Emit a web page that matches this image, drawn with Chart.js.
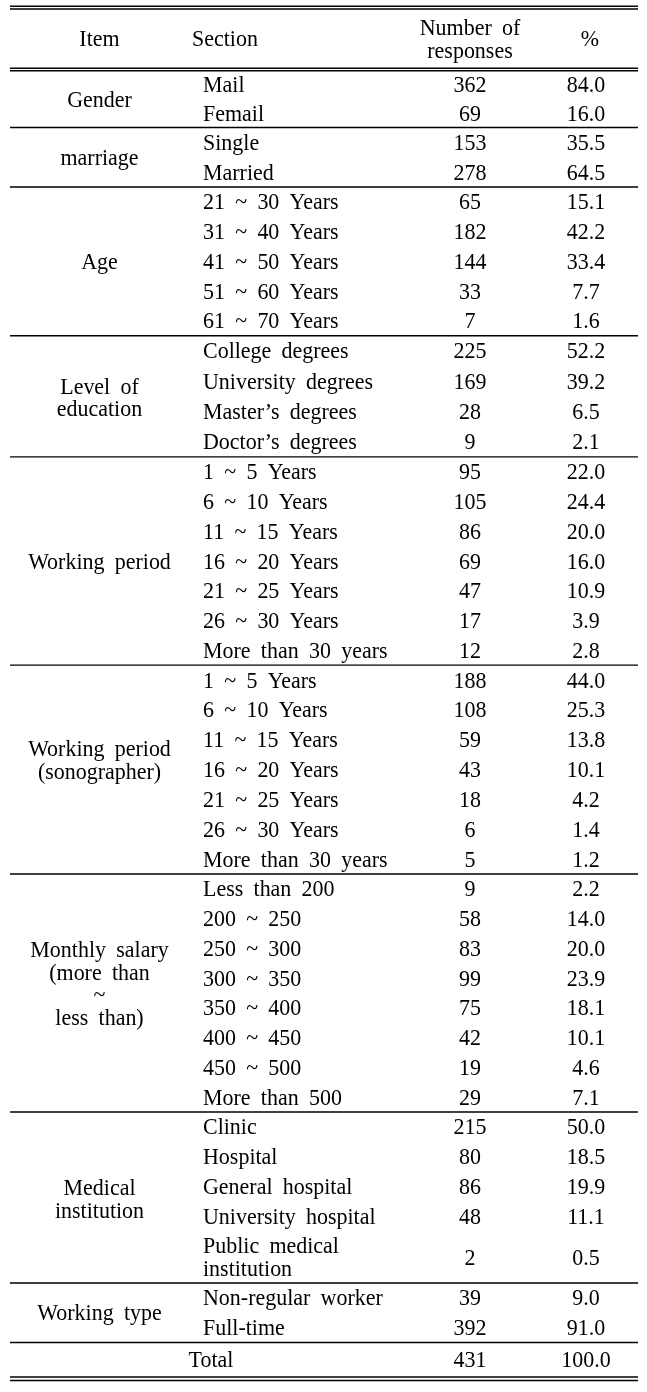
<!DOCTYPE html>
<html>
<head>
<meta charset="utf-8">
<script src="https://cdn.jsdelivr.net/npm/chart.js@4.4.1/dist/chart.umd.min.js"></script>
<style>
html, body { margin: 0; padding: 0; background: #fff; }
canvas { display: block; }
</style>
</head>
<body>
<canvas id="tbl" width="647" height="1392" style="width:647px;height:1392px"></canvas>
<script>
// 표 데이터
const headers = ['Item', 'Section', 'Number of|responses', '%'];
const items = ['Gender', 'marriage', 'Age', 'Level of|education', 'Working period',
    'Working period|(sonographer)', 'Monthly salary|(more than|~|less than)',
    'Medical|institution', 'Working type'];
const sections = [
    ['Mail', 'Femail'],
    ['Single', 'Married'],
    ['21 ~ 30 Years', '31 ~ 40 Years', '41 ~ 50 Years', '51 ~ 60 Years', '61 ~ 70 Years'],
    ['College degrees', 'University degrees', 'Master’s degrees', 'Doctor’s degrees'],
    ['1 ~ 5 Years', '6 ~ 10 Years', '11 ~ 15 Years', '16 ~ 20 Years', '21 ~ 25 Years', '26 ~ 30 Years', 'More than 30 years'],
    ['1 ~ 5 Years', '6 ~ 10 Years', '11 ~ 15 Years', '16 ~ 20 Years', '21 ~ 25 Years', '26 ~ 30 Years', 'More than 30 years'],
    ['Less than 200', '200 ~ 250', '250 ~ 300', '300 ~ 350', '350 ~ 400', '400 ~ 450', '450 ~ 500', 'More than 500'],
    ['Clinic', 'Hospital', 'General hospital', 'University hospital', 'Public medical|institution'],
    ['Non-regular worker', 'Full-time']
];
const counts = [
    [362, 69],
    [153, 278],
    [65, 182, 144, 33, 7],
    [225, 169, 28, 9],
    [95, 105, 86, 69, 47, 17, 12],
    [188, 108, 59, 43, 18, 6, 5],
    [9, 58, 83, 99, 75, 42, 19, 29],
    [215, 80, 86, 48, 2],
    [39, 392]
];
const percents = [
    [84.0, 16.0],
    [35.5, 64.5],
    [15.1, 42.2, 33.4, 7.7, 1.6],
    [52.2, 39.2, 6.5, 2.1],
    [22.0, 24.4, 20.0, 16.0, 10.9, 3.9, 2.8],
    [44.0, 25.3, 13.8, 10.1, 4.2, 1.4, 1.2],
    [2.2, 14.0, 20.0, 23.9, 18.1, 10.1, 4.6, 7.1],
    [50.0, 18.5, 19.9, 11.1, 0.5],
    [9.0, 91.0]
];
const totalLabel = 'Total';
const totalCount = 431;
const totalPercent = 100.0;

// 배치 (세로 1칸 = 29.75px)
const UNIT = 29.75;
const groupSpan = [1.91, 2, 5, 4.07, 7, 7.02, 8, 5.75, 2];
const rowWeight = (g, i) => (g == 7 && i == 4) ? 1.74 : 1;
const labelShift = [0, 0, 0, 0.04, 0, -0.32, -0.32, 0.04, 0];
const colX = { item: 99.5, section: 203, count: 470, pct: 586, pctHead: 590, total: 211 };
const rules = { top: [0.212, 0.303], head: [2.296, 2.376], totalH: 1.16, bottom: 0.115 };
const headY = 1.3;
const lineGap = 22.5;
const squeeze = 0.955;

// 셀 위치 계산
const itemPts = [], sectionPts = [], countPts = [], pctPts = [], headPts = [], groupRules = [];
let y = rules.head[1];
sections.forEach((rows, g) => {
    const W = rows.reduce((s, r, i) => s + rowWeight(g, i), 0);
    itemPts.push({ x: colX.item, y: y + groupSpan[g] / 2 + labelShift[g], text: items[g], align: 'center' });
    let ry = y;
    rows.forEach((name, i) => {
        const h = groupSpan[g] * rowWeight(g, i) / W;
        const cy = ry + h / 2;
        sectionPts.push({ x: colX.section, y: cy, text: name, align: 'left' });
        countPts.push({ x: colX.count, y: cy, text: String(counts[g][i]), align: 'center' });
        pctPts.push({ x: colX.pct, y: cy, text: percents[g][i].toFixed(1), align: 'center' });
        ry += h;
    });
    y += groupSpan[g];
    groupRules.push(y);
});
const totalY = y + rules.totalH / 2;
itemPts.push({ x: colX.total, y: totalY, text: totalLabel, align: 'center' });
countPts.push({ x: colX.count, y: totalY, text: String(totalCount), align: 'center' });
pctPts.push({ x: colX.pct, y: totalY, text: totalPercent.toFixed(1), align: 'center' });
const endY = y + rules.totalH;

headPts.push({ x: colX.item, y: headY, text: headers[0], align: 'center' });
headPts.push({ x: colX.section + 22, y: headY, text: headers[1], align: 'center' });
headPts.push({ x: colX.count, y: headY, text: headers[2], align: 'center' });
headPts.push({ x: colX.pctHead, y: headY, text: headers[3], align: 'center' });

// 선과 글자를 그린다
const tablePlugin = {
    id: 'tablePlugin',
    afterDatasetsDraw(chart) {
        const ctx = chart.ctx;
        const xs = chart.scales.x, ys = chart.scales.y;
        const x0 = xs.getPixelForValue(10), x1 = xs.getPixelForValue(638);
        ctx.save();
        ctx.strokeStyle = '#000';
        ctx.lineWidth = 1.4;
        const hline = (u) => {
            const p = ys.getPixelForValue(u);
            ctx.beginPath();
            ctx.moveTo(x0, p);
            ctx.lineTo(x1, p);
            ctx.stroke();
        };
        rules.top.forEach(hline);
        rules.head.forEach(hline);
        groupRules.forEach(hline);
        hline(endY);
        hline(endY + rules.bottom);

        ctx.fillStyle = '#000';
        ctx.font = '23px "Liberation Serif", "Times New Roman", serif';
        if ('wordSpacing' in ctx) ctx.wordSpacing = '5px';
        ctx.textBaseline = 'alphabetic';
        chart.data.datasets.forEach((ds, di) => {
            const meta = chart.getDatasetMeta(di);
            meta.data.forEach((el, i) => {
                const d = ds.data[i];
                const lines = d.text.split('|');
                ctx.textAlign = d.align;
                lines.forEach((ln, k) => {
                    const off = (k - (lines.length - 1) / 2) * lineGap;
                    ctx.save();
                    ctx.translate(el.x, el.y + off + 7.6);
                    ctx.scale(squeeze, 1);
                    ctx.fillText(ln, 0, 0);
                    ctx.restore();
                });
            });
        });
        ctx.restore();
    }
};

const ds = (label, pts) => ({ label, data: pts, pointRadius: 0, pointHoverRadius: 0, showLine: false });

new Chart(document.getElementById('tbl'), {
    type: 'scatter',
    data: {
        datasets: [ds('header', headPts), ds('item', itemPts), ds('section', sectionPts), ds('count', countPts), ds('percent', pctPts)]
    },
    options: {
        responsive: false,
        animation: false,
        events: [],
        layout: { padding: 0 },
        plugins: { legend: { display: false }, tooltip: { enabled: false } },
        scales: {
            x: { type: 'linear', display: false, min: 0, max: 647 },
            y: { type: 'linear', display: false, reverse: true, min: 0, max: 1392 / UNIT }
        }
    },
    plugins: [tablePlugin]
});
</script>
</body>
</html>
